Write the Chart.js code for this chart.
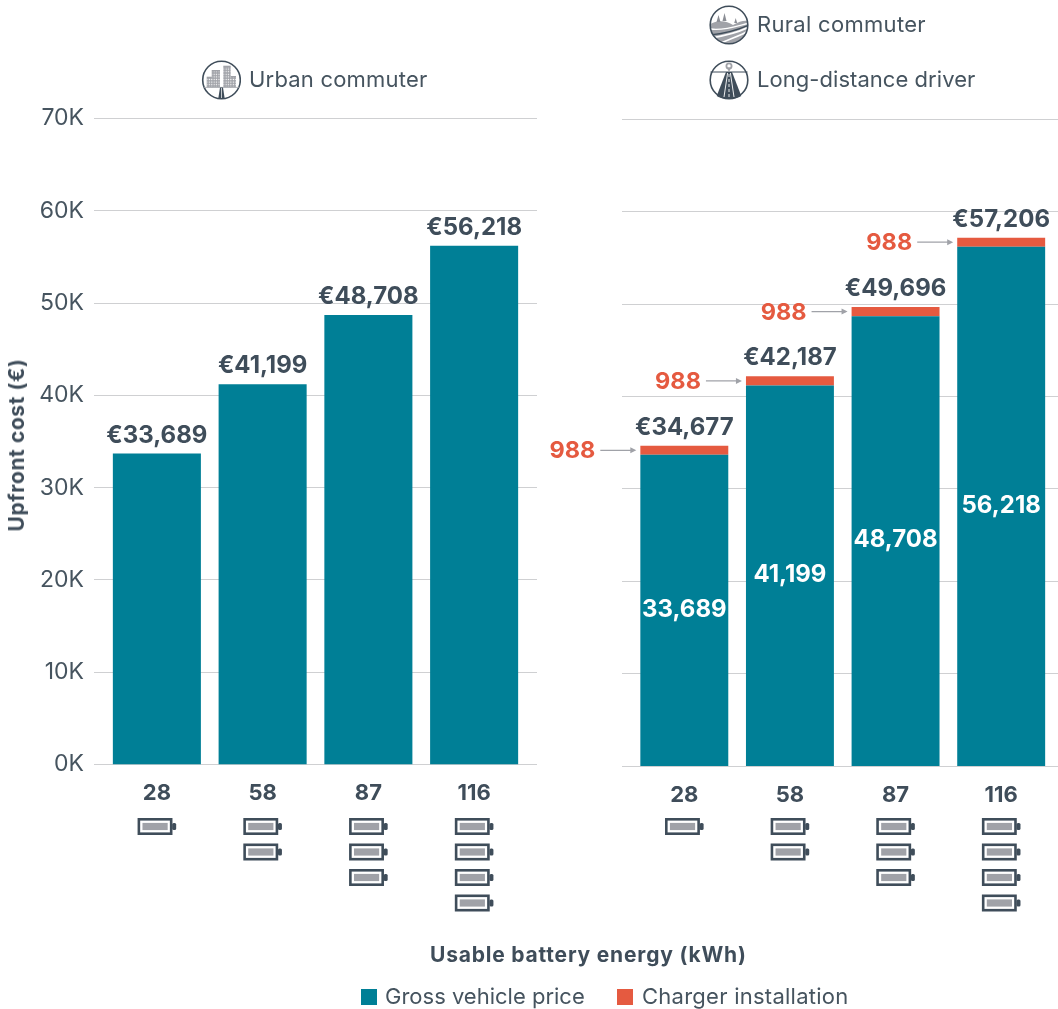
<!DOCTYPE html>
<html>
<head>
<meta charset="utf-8">
<script src="https://cdn.jsdelivr.net/npm/chart.js@4"></script>
<style>
  html, body { margin: 0; padding: 0; background: #fff; }
  #page { position: relative; width: 1058px; height: 1009px; overflow: hidden; font-family: "Inter", sans-serif; color: #46545f; }
  canvas { position: absolute; top: 0; }
  .t { position: absolute; white-space: nowrap; font-size: 22px; line-height: 26px; }
  .b { font-weight: 700; font-size: 21px; color: #3f4d5a; letter-spacing: 0.8px; }
  .swatch { position: absolute; width: 16px; height: 16px; }
  svg { position: absolute; }
</style>
</head>
<body>
<div id="page">
  <canvas id="leftChart" style="left:0"></canvas>
  <canvas id="rightChart" style="left:540px"></canvas>

  <svg style="left:201px;top:60px" width="40" height="40" viewBox="0 0 40 40">
    <defs>
      <pattern id="windows" width="2.4" height="2.6" patternUnits="userSpaceOnUse">
        <rect x="0.6" y="0.7" width="1.1" height="1.2" fill="#fff"/>
      </pattern>
    </defs>
    <circle cx="20.5" cy="20" r="18.8" fill="#fff" stroke="#3f4d5a" stroke-width="1.6"/>
    <g fill="#a0a2a8">
      <rect x="5.7" y="16.7" width="6" height="10.6"/><rect x="10.7" y="10" width="8.3" height="17.3"/>
      <rect x="22.3" y="5.7" width="7.4" height="21.6"/><rect x="29" y="16" width="6" height="11.3"/>
    </g>
    <g fill="url(#windows)">
      <rect x="5.7" y="18" width="6" height="9"/><rect x="10.7" y="11.5" width="8.3" height="15.5"/>
      <rect x="22.3" y="7" width="7.4" height="20"/><rect x="29" y="17.5" width="6" height="9.5"/>
    </g>
    <path d="M2.5 27.4H38.5" stroke="#a0a2a8" stroke-width="0.8"/>
    <path d="M19 27.4L17.3 38.6H23.7L22 27.4Z" fill="#3f4d5a"/>
    <path d="M20.5 28V38" stroke="#fff" stroke-width="0.7"/>
  </svg>
  <svg style="left:709px;top:5px" width="40" height="40" viewBox="0 0 40 40">
    <defs><clipPath id="ruralClip"><circle cx="20" cy="20" r="18.8"/></clipPath></defs>
    <circle cx="20" cy="20" r="18.8" fill="#fff"/>
    <g clip-path="url(#ruralClip)">
      <path d="M0 20C8 14 18 16 24 20C30 16 36 15 40 16V40H0Z" fill="#a0a2a8"/>
      <path d="M2 24C14 26 28 21 40 18" fill="none" stroke="#fff" stroke-width="1.3"/>
      <path d="M0 30C12 29 26 26 40 20" fill="none" stroke="#3f4d5a" stroke-width="1.3"/>
      <path d="M2 33C14 31 28 28 40 22" fill="none" stroke="#fff" stroke-width="1.6"/>
      <path d="M8 40C18 35 30 31 40 26" fill="none" stroke="#fff" stroke-width="1.6"/>
    </g>
    <path d="M9.5 10L7.5 17H11.5ZM15.5 8L13.5 16H17.5ZM26.7 13L25.2 18H28.2Z" fill="#8b8e95"/>
    <circle cx="20" cy="20" r="18.8" fill="none" stroke="#3f4d5a" stroke-width="1.6"/>
  </svg>
  <svg style="left:709px;top:60px" width="40" height="40" viewBox="0 0 40 40">
    <circle cx="20" cy="20" r="18.8" fill="#fff" stroke="#3f4d5a" stroke-width="1.6"/>
    <path d="M1.5 12H38.5" stroke="#3f4d5a" stroke-width="1.2"/>
    <path d="M17 12L7.7 36C13 39.8 27 39.8 32.3 36L23 12Z" fill="#3f4d5a"/>
    <path d="M18.6 13L15 37M21.4 13L25 37" stroke="#fff" stroke-width="0.9"/>
    <path d="M20 14V38" stroke="#fff" stroke-width="0.9" stroke-dasharray="3 2"/>
    <circle cx="20" cy="6" r="2.6" fill="none" stroke="#a0a2a8" stroke-width="1.8"/>
    <path d="M20 12L17.8 7.5H22.2Z" fill="#a0a2a8"/>
  </svg>

  <div class="t" style="left:249px;top:66px;letter-spacing:0.2px">Urban commuter</div>
  <div class="t" style="left:757px;top:11px;letter-spacing:0.3px">Rural commuter</div>
  <div class="t" style="left:757px;top:66px;letter-spacing:0.05px">Long-distance driver</div>
  <div class="t b" style="left:17px;top:445px;transform:translate(-50%,-50%) rotate(-90deg);font-size:21px;letter-spacing:0.6px">Upfront cost (€)</div>
  <div class="t b" style="left:430px;top:942px">Usable battery energy (kWh)</div>
  <div class="swatch" style="left:361px;top:989px;background:#007f96"></div>
  <div class="t" style="left:385px;top:983px">Gross vehicle price</div>
  <div class="swatch" style="left:617px;top:989px;background:#e55a40"></div>
  <div class="t" style="left:642px;top:983px;letter-spacing:0.25px">Charger installation</div>
</div>

<script>
var categories = ["28", "58", "87", "116"];
var batteryPacks = [1, 2, 3, 4];
var grossPrice = [33689, 41199, 48708, 56218];
var chargerNone = [0, 0, 0, 0];
var chargerCost = [988, 988, 988, 988];
var yTicks = [0, 10000, 20000, 30000, 40000, 50000, 60000, 70000];

var TEAL = "#007f96";
var ORANGE = "#e55a40";
var DARK = "#3f4d5a";
var GREY = "#a0a2a8";
var FONT = "Inter, sans-serif";

function money(v) {
  return v.toString().replace(/\B(?=(\d{3})+$)/g, ",");
}

// gridlines run past the category band on both sides
var extendedGrid = {
  id: "extendedGrid",
  beforeDatasetsDraw: function (chart, args, opts) {
    var ctx = chart.ctx;
    var y = chart.scales.y;
    ctx.save();
    ctx.strokeStyle = "#cfd0d2";
    ctx.lineWidth = 1;
    yTicks.forEach(function (v) {
      var py = Math.floor(y.getPixelForValue(v)) + 0.5;
      ctx.beginPath();
      ctx.moveTo(opts.from, py);
      ctx.lineTo(opts.to, py);
      ctx.stroke();
    });
    ctx.restore();
  },
};

// pack icons under each category, one per pack
var batteryIcons = {
  id: "batteryIcons",
  afterDraw: function (chart) {
    var ctx = chart.ctx;
    var x = chart.scales.x;
    ctx.save();
    batteryPacks.forEach(function (n, i) {
      var cx = x.getPixelForValue(i);
      for (var k = 0; k < n; k++) {
        var top = 819.3 + k * 25.5;
        ctx.strokeStyle = DARK;
        ctx.lineWidth = 2.6;
        ctx.strokeRect(cx - 18, top, 32.3, 14.4);
        ctx.fillStyle = GREY;
        ctx.fillRect(cx - 14.4, top + 3.6, 25.2, 7.2);
        ctx.fillStyle = DARK;
        ctx.beginPath();
        ctx.roundRect(cx + 15.3, top + 3.7, 4, 7, 1.5);
        ctx.fill();
      }
    });
    ctx.restore();
  },
};

// value labels, plus the arrow callouts on the charger segment
var barLabels = {
  id: "barLabels",
  afterDatasetsDraw: function (chart, args, opts) {
    var ctx = chart.ctx;
    var gross = chart.getDatasetMeta(0).data;
    var charger = chart.getDatasetMeta(1).data;
    var y = chart.scales.y;
    ctx.save();
    ctx.textAlign = "center";
    ctx.textBaseline = "alphabetic";
    ctx.font = "700 24px " + FONT;
    grossPrice.forEach(function (v, i) {
      var total = v + opts.charger[i];
      ctx.fillStyle = DARK;
      ctx.fillText("€" + money(total), gross[i].x, y.getPixelForValue(total) - 11);
      if (!opts.charger[i]) return;

      ctx.fillStyle = "#fff";
      ctx.textBaseline = "middle";
      ctx.fillText(money(v), gross[i].x, (y.getPixelForValue(v) + y.getPixelForValue(0)) / 2 - 1);
      ctx.textBaseline = "alphabetic";

      var py = charger[i].y + charger[i].height / 2;
      var left = gross[i].x - 44;
      ctx.fillStyle = ORANGE;
      ctx.textAlign = "right";
      ctx.font = "700 23.5px " + FONT;
      ctx.fillText(money(opts.charger[i]), left - 45, py + 8);
      ctx.font = "700 24px " + FONT;
      ctx.textAlign = "center";

      ctx.strokeStyle = GREY;
      ctx.fillStyle = GREY;
      ctx.lineWidth = 1.3;
      ctx.beginPath();
      ctx.moveTo(left - 40, py);
      ctx.lineTo(left - 6, py);
      ctx.stroke();
      ctx.beginPath();
      ctx.moveTo(left - 4, py);
      ctx.lineTo(left - 10, py - 3);
      ctx.lineTo(left - 10, py + 3);
      ctx.fill();
    });
    ctx.restore();
  },
};

function makeChart(id, w, cfg) {
  var canvas = document.getElementById(id);
  canvas.width = w;
  canvas.height = 1009;
  return new Chart(canvas.getContext("2d"), {
    type: "bar",
    data: {
      labels: categories,
      datasets: [
        { label: "Gross vehicle price", data: grossPrice, backgroundColor: TEAL, barPercentage: 1, categoryPercentage: 88 / 105.7 },
        { label: "Charger installation", data: cfg.charger, backgroundColor: ORANGE, barPercentage: 1, categoryPercentage: 88 / 105.7 },
      ],
    },
    plugins: [extendedGrid, batteryIcons, barLabels],
    options: {
      responsive: false,
      animation: false,
      layout: { padding: { left: cfg.padLeft, right: cfg.padRight, top: cfg.top, bottom: 1009 - cfg.bottom - 44 } },
      plugins: {
        legend: { display: false },
        tooltip: { enabled: false },
        extendedGrid: { from: cfg.gridFrom, to: cfg.gridTo },
        barLabels: { charger: cfg.charger },
      },
      scales: {
        x: {
          stacked: true,
          grid: { display: false },
          border: { display: false },
          ticks: { color: DARK, padding: 8, font: { family: FONT, size: 22, weight: "700" } },
          afterFit: function (scale) { scale.height = 44; },
        },
        y: {
          stacked: true,
          display: cfg.showY,
          min: 0,
          max: 70000,
          grid: { display: false },
          border: { display: false },
          afterBuildTicks: function (scale) {
            scale.ticks = yTicks.map(function (v) { return { value: v }; });
          },
          ticks: {
            color: "#46545f",
            padding: 12,
            font: { family: FONT, size: 23 },
            callback: function (v) { return v / 1000 + "K"; },
          },
          afterFit: function (scale) { if (cfg.showY) scale.width = cfg.yWidth; },
        },
      },
    },
  });
}

makeChart("leftChart", 540, {
  charger: chargerNone, showY: true, yWidth: 104, padLeft: 0, padRight: 13,
  top: 118.5, bottom: 764.5, gridFrom: 94, gridTo: 537,
});
makeChart("rightChart", 518, {
  charger: chargerCost, showY: false, yWidth: 0, padLeft: 91.5, padRight: 4,
  top: 119.5, bottom: 766, gridFrom: 82, gridTo: 518,
});
</script>
</body>
</html>
